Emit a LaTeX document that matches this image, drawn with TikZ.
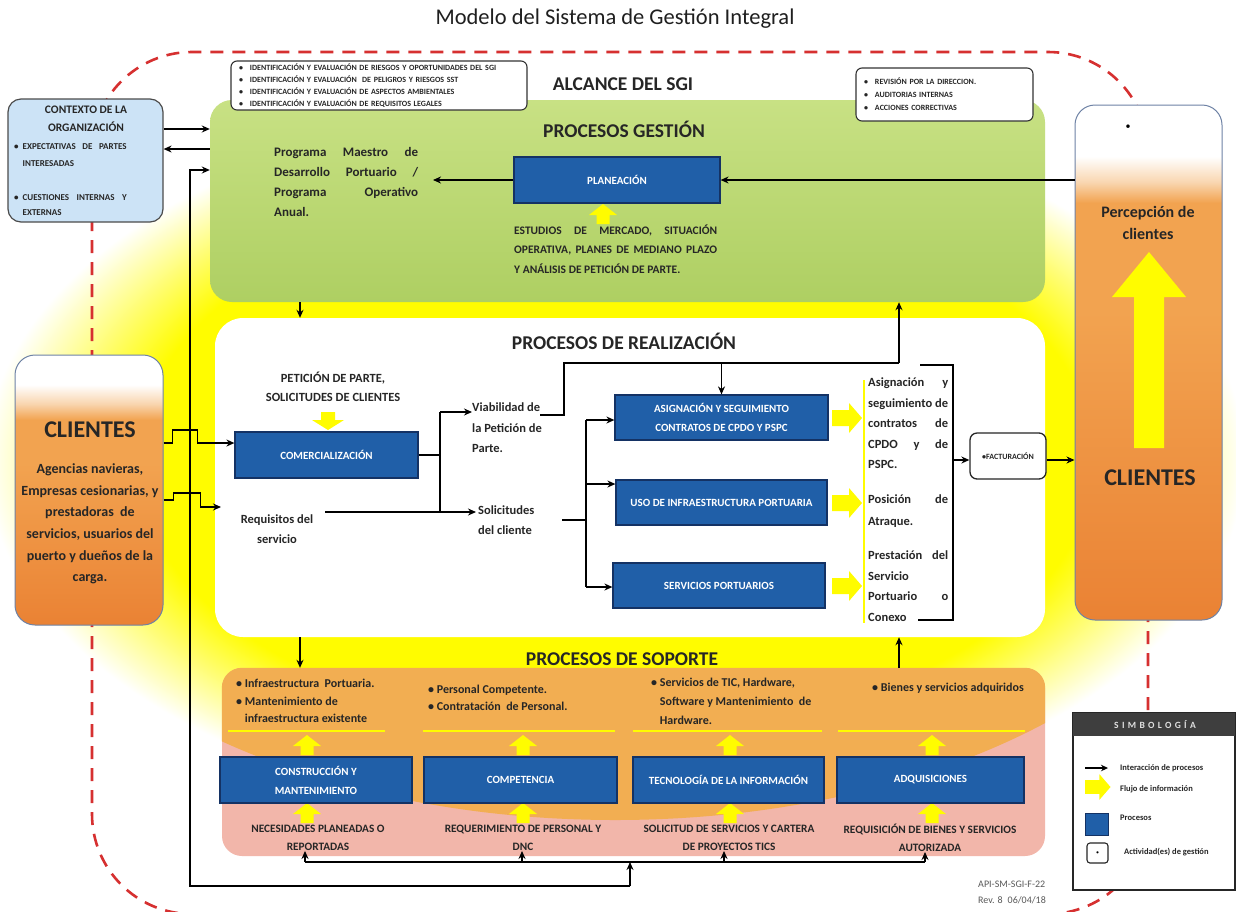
\documentclass[tikz,border=0pt]{standalone}
\usepackage{fontspec}
\setmainfont{Carlito}
\usetikzlibrary{arrows.meta}
\definecolor{blueP}{RGB}{32,95,168}
\definecolor{blueD}{RGB}{20,50,100}
\definecolor{greenA}{RGB}{200,225,132}
\definecolor{greenB}{RGB}{174,207,98}
\definecolor{orA}{RGB}{242,163,80}
\definecolor{orB}{RGB}{234,130,52}
\definecolor{orW}{RGB}{249,214,176}
\definecolor{yel}{RGB}{255,252,0}
\definecolor{pinkS}{RGB}{242,182,170}
\definecolor{orS}{RGB}{242,174,82}
\definecolor{ctxblue}{RGB}{204,227,246}
\definecolor{redD}{RGB}{214,48,48}
\definecolor{hdr}{RGB}{62,62,62}
\definecolor{txt}{RGB}{38,38,38}
\definecolor{edgeB}{RGB}{110,130,165}
% path bounding box maps to 25bp..75bp (vertical) and radius 25bp (radial)
\pgfdeclareradialshading{glow}{\pgfpoint{0bp}{0bp}}{color(0bp)=(yel); color(19bp)=(yel); color(25bp)=(white); color(50bp)=(white)}
\pgfdeclareverticalshading{orcolR}{100bp}{color(0bp)=(orB); color(25bp)=(orB); color(55bp)=(orA); color(65.5bp)=(orA); color(67.5bp)=(orW); color(70bp)=(white); color(100bp)=(white)}
\pgfdeclareverticalshading{orcolL}{100bp}{color(0bp)=(orB); color(25bp)=(orB); color(55bp)=(orA); color(63bp)=(orA); color(66bp)=(orW); color(69.5bp)=(white); color(100bp)=(white)}
\pgfdeclareverticalshading{greensh}{100bp}{color(0bp)=(greenB); color(25bp)=(greenB); color(75bp)=(greenA); color(100bp)=(greenA)}
\newcommand\jline[2]{\makebox[#1][s]{#2}}
\begin{document}
\begin{tikzpicture}[x=1pt,y=-1pt,
  bbox/.style={draw=blueD, line width=1.2pt, fill=blueP, text=white, font=\bfseries\fontsize{11}{19}\selectfont, align=center, inner sep=1pt},
  arr/.style={-{Stealth[length=8pt,width=7pt]}, line width=1.7pt},
  ln/.style={line width=1.7pt},
  bodyt/.style={font=\bfseries\fontsize{12.5}{20.5}\selectfont, text=txt, inner sep=0pt, align=left},
  bodyc/.style={font=\bfseries\fontsize{12.5}{19.5}\selectfont, text=txt, inner sep=0pt, align=center},
  head/.style={font=\bfseries\fontsize{19.5}{24}\selectfont, text=txt, inner sep=0pt},
  capt/.style={font=\bfseries\fontsize{11.3}{18}\selectfont, text=txt, inner sep=0pt, align=center},
  bul/.style={font=\bfseries\fontsize{12}{17.5}\selectfont, text=txt, inner sep=0pt, align=left, anchor=west},
  tinyt/.style={font=\bfseries\fontsize{8}{12}\selectfont, text=txt, align=left},
  legt/.style={font=\bfseries\fontsize{8.5}{10}\selectfont, text=txt, inner sep=0pt, anchor=west},
  yline/.style={draw=yel, line width=2pt},
  yup/.pic={\fill[yel] (-6.5,0) -- (-6.5,-9) -- (-14,-9) -- (0,-20) -- (14,-9) -- (6.5,-9) -- (6.5,0) -- cycle;},
  ydn/.pic={\fill[yel] (-7,0) -- (-7,8) -- (-16,8) -- (0,18) -- (16,8) -- (7,8) -- (7,0) -- cycle;},
  yrt/.pic={\fill[yel] (0,-8) -- (17,-8) -- (17,-15) -- (30,0) -- (17,15) -- (17,8) -- (0,8) -- cycle;}
]
\useasboundingbox (0,0) rectangle (1236,911);
\fill[white] (0,0) rectangle (1236,911);
\shade[shading=glow] (615,460) ellipse [x radius=630pt, y radius=360pt];
\draw[redD, line width=2.6pt, dash pattern=on 13pt off 9pt, rounded corners=100pt] (92,52) rectangle (1148,914);

% title
\node[font=\fontsize{22.5}{26}\selectfont, text=black!88, inner sep=0] (title) at (615,19) {Modelo del Sistema de Gestión Integral};

% ---------- PROCESOS GESTION ----------
\node[shade, shading=greensh, minimum width=835pt, minimum height=202pt, rounded corners=22pt, inner sep=0] (gest) at (627.5,201) {};
\node[tinyt, draw=black!80, line width=1.1pt, fill=white, rounded corners=6pt, text width=280pt, inner xsep=8pt, inner ysep=0pt, minimum height=49pt] (ident) at (379,85.5)
 {\textbullet\hspace{7pt}IDENTIFICACIÓN Y EVALUACIÓN DE RIESGOS Y OPORTUNIDADES DEL SGI\\
  \textbullet\hspace{7pt}IDENTIFICACIÓN Y EVALUACIÓN\ \ DE PELIGROS Y RIESGOS SST\\
  \textbullet\hspace{7pt}IDENTIFICACIÓN Y EVALUACIÓN DE ASPECTOS AMBIENTALES\\
  \textbullet\hspace{7pt}IDENTIFICACIÓN Y EVALUACIÓN DE REQUISITOS LEGALES};
\node[tinyt, font=\bfseries\fontsize{8}{13}\selectfont, draw=black!80, line width=1.1pt, fill=white, rounded corners=6pt, text width=161pt, inner xsep=8pt, inner ysep=0pt, minimum height=53pt] (revd) at (944.5,94.5)
 {\textbullet\hspace{7pt}REVISIÓN POR LA DIRECCION.\\
  \textbullet\hspace{7pt}AUDITORIAS INTERNAS\\
  \textbullet\hspace{7pt}ACCIONES CORRECTIVAS};
\node[head] (alc) at (623,84) {ALCANCE DEL SGI};
\node[head] (hgest) at (624,129) {PROCESOS GESTIÓN};
\node[font=\bfseries\fontsize{13}{20}\selectfont, text=txt, inner sep=0, align=left, anchor=west] (prog) at (274,182)
 {\jline{144pt}{Programa Maestro de}\\ \jline{144pt}{Desarrollo Portuario /}\\ \jline{144pt}{Programa Operativo}\\ Anual.};
\node[bbox, minimum width=206pt, minimum height=46pt] (plan) at (617,180) {PLANEACIÓN};
\pic at (603,224) {yup};
\node[font=\bfseries\fontsize{11.5}{19.5}\selectfont, text=txt, inner sep=0, align=left, anchor=west] (estud) at (514,249)
 {\jline{203pt}{ESTUDIOS DE MERCADO, SITUACIÓN}\\ \jline{203pt}{OPERATIVA, PLANES DE MEDIANO PLAZO}\\ Y ANÁLISIS DE PETICIÓN DE PARTE.};

% ---------- contexto ----------
\node[draw=black!70, line width=1.2pt, fill=ctxblue, rounded corners=13pt, minimum width=155pt, minimum height=123pt, inner sep=0] (ctx) at (85.5,160.5) {};
\node[font=\bfseries\fontsize{11.5}{18}\selectfont, text=txt, align=center, inner sep=0] (ctxT) at (86,119) {CONTEXTO DE LA\\ORGANIZACIÓN};
\node[font=\bfseries\fontsize{9}{17}\selectfont, text=txt, align=left, inner sep=0, anchor=west] (ctxB1) at (14,155.5)
 {\textbullet\hspace{4pt}\jline{104pt}{EXPECTATIVAS DE PARTES}\\ \phantom{\textbullet}\hspace{4pt}INTERESADAS};
\node[font=\bfseries\fontsize{9}{15}\selectfont, text=txt, align=left, inner sep=0, anchor=west] (ctxB2) at (14,205.5)
 {\textbullet\hspace{4pt}\jline{104pt}{CUESTIONES INTERNAS Y}\\ \phantom{\textbullet}\hspace{4pt}EXTERNAS};

% ---------- right column ----------
\node[shade, shading=orcolR, draw=edgeB, line width=1pt, rounded corners=20pt, minimum width=147pt, minimum height=515pt, inner sep=0] (percep) at (1148.5,362.5) {};
\node[font=\fontsize{10}{10}\selectfont, inner sep=0] (pdot) at (1128,127) {\textbullet};
\node[font=\bfseries\fontsize{16}{22}\selectfont, text=txt, align=center, inner sep=0] (perT) at (1148,223) {Percepción de\\clientes};
\fill[yel] (1134,448) -- (1134,297) -- (1112,297) -- (1149,252) -- (1186,297) -- (1164,297) -- (1164,448) -- cycle;
\node[font=\bfseries\fontsize{24}{28}\selectfont, text=txt, inner sep=0] (cliR) at (1150,478) {CLIENTES};

% ---------- left clients ----------
\node[shade, shading=orcolL, draw=edgeB, line width=1pt, rounded corners=20pt, minimum width=148pt, minimum height=270pt, inner sep=0] (cli) at (89,490) {};
\node[font=\bfseries\fontsize{24}{28}\selectfont, text=txt, inner sep=0] (cliT) at (90,430) {CLIENTES};
\node[font=\bfseries\fontsize{14}{21.6}\selectfont, text=txt, align=center, inner sep=0] (cliD) at (90,524)
 {Agencias navieras,\\Empresas cesionarias, y\\prestadoras\ \ de\\servicios, usuarios del\\puerto y dueños de la\\carga.};

% ---------- PROCESOS DE REALIZACION ----------
\node[fill=white, minimum width=830pt, minimum height=319pt, rounded corners=28pt, inner sep=0] (real) at (630,477.5) {};
\node[head] (hreal) at (624,341) {PROCESOS DE REALIZACIÓN};
\node[bodyc] (pet) at (333,387) {PETICIÓN DE PARTE,\\SOLICITUDES DE CLIENTES};
\pic at (328,412) {ydn};
\node[bbox, minimum width=183pt, minimum height=46pt] (com) at (326.5,455) {COMERCIALIZACIÓN};
\node[bodyc] (req) at (277,529) {Requisitos del\\servicio};
\node[bodyt, anchor=west] (viab) at (472,428) {Viabilidad de\\la Petición de\\Parte.};
\node[bodyt, anchor=west] (sol) at (478,520) {Solicitudes\\del cliente};
\node[bbox, minimum width=213pt, minimum height=45pt] (asig) at (721.5,417.5) {ASIGNACIÓN Y SEGUIMIENTO\\CONTRATOS DE CPDO Y PSPC};
\node[bbox, minimum width=211pt, minimum height=45pt] (uso) at (721.5,502.5) {USO DE INFRAESTRUCTURA PORTUARIA};
\node[bbox, minimum width=212pt, minimum height=45pt] (serv) at (719,585.5) {SERVICIOS PORTUARIOS};
\pic at (832,418) {yrt};
\pic at (832,503) {yrt};
\pic at (832,586) {yrt};
\coordinate (ylT) at (864,380);
\coordinate (ylB) at (864,623);
\draw[yline, line width=1.5pt] (ylT) -- (ylB);
\node[bodyt, anchor=west] (c1) at (868,423.5) {\jline{80pt}{Asignación y}\\ \jline{80pt}{seguimiento de}\\ \jline{80pt}{contratos de}\\ \jline{80pt}{CPDO y de}\\ PSPC.};
\node[bodyt, font=\bfseries\fontsize{12.5}{22}\selectfont, anchor=west] (c2) at (868,511) {\jline{80pt}{Posición de}\\ Atraque.};
\node[bodyt, anchor=west] (c3) at (868,586) {\jline{80pt}{Prestación del}\\ Servicio\\ \jline{80pt}{Portuario o}\\ Conexo};
\node[draw=black!85, line width=1.3pt, fill=white, rounded corners=7pt, minimum width=76pt, minimum height=46pt, inner sep=0, font=\bfseries\fontsize{8}{10}\selectfont, text=txt] (fact) at (1008,456) {\textbullet FACTURACIÓN};

% ---------- PROCESOS DE SOPORTE ----------
\node[fill=pinkS, minimum width=823pt, minimum height=188pt, rounded corners=20pt, inner sep=0] (sop) at (633.5,762) {};
\begin{scope}
 \clip[rounded corners=20pt] (sop.north west) rectangle (sop.south east);
 \fill[orS] (615,460) ellipse [x radius=630pt, y radius=360pt];
\end{scope}
\node[head] (hsop) at (622,659) {PROCESOS DE SOPORTE};
\node[bul] (sb1) at (236,701) {\textbullet\ Infraestructura\ \ Portuaria.\\ \textbullet\ Mantenimiento de\\ \phantom{\textbullet}\ infraestructura existente};
\node[bul] (sb2) at (428,698) {\textbullet\ Personal Competente.\\ \textbullet\ Contratación\ \ de Personal.};
\node[bul, font=\bfseries\fontsize{12}{19}\selectfont] (sb3) at (651,701) {\textbullet\ Servicios de TIC, Hardware,\\ \phantom{\textbullet}\ Software y Mantenimiento\ \ de\\ \phantom{\textbullet}\ Hardware.};
\node[bul] (sb4) at (872,688) {\textbullet\ Bienes y servicios adquiridos};
\draw[yline] (228,731) -- (385,731);
\draw[yline] (423,731) -- (615,731);
\draw[yline] (633,731) -- (822,731);
\draw[yline] (838,731) -- (1025,731);
\foreach \xx in {307,523,730,932} {\pic at (\xx,755) {yup}; \pic at (\xx,823) {yup};}
\node[bbox, minimum width=192pt, minimum height=46pt] (cons) at (316,780) {CONSTRUCCIÓN Y\\MANTENIMIENTO};
\node[bbox, minimum width=193pt, minimum height=46pt] (comp) at (520.5,780) {COMPETENCIA};
\node[bbox, minimum width=191pt, minimum height=46pt] (tec) at (728.5,780) {TECNOLOGÍA DE LA INFORMACIÓN};
\node[bbox, minimum width=187pt, minimum height=46pt] (adq) at (930.5,780) {ADQUISICIONES};
\node[capt] (nec) at (318,838) {NECESIDADES PLANEADAS O\\REPORTADAS};
\node[capt] (rqp) at (523,838) {REQUERIMIENTO DE PERSONAL Y\\DNC};
\node[capt] (sls) at (729,838) {SOLICITUD DE SERVICIOS Y CARTERA\\DE PROYECTOS TICS};
\node[capt] (rqb) at (930,838) {REQUISICIÓN DE BIENES Y SERVICIOS\\AUTORIZADA};

% ---------- connectors ----------
\coordinate (c129) at (0,129);
\coordinate (c149) at (0,149);
\coordinate (c443) at (0,443);
\coordinate (c500) at (0,500);
\coordinate (c460) at (0,460);
\coordinate (x300) at (300,0);
\coordinate (x900) at (899,0);
\draw[arr] (ctx.east |- c129) -- (gest.west |- c129);
\draw[arr] (gest.west |- c149) -- (ctx.east |- c149);
\draw[arr] (percep.west |- plan.east) -- (plan.east);
\coordinate (progR) at (433,180);
\draw[arr] (plan.west) -- (progR);
\draw[arr] (gest.south -| x300) -- (real.north -| x300);
\draw[arr] (real.south -| x300) -- (sop.north -| x300);
\draw[arr] (sop.north -| x900) -- (real.south -| x900);
% clients to realizacion (with hops)
\coordinate (reqIn) at (221,507);
\draw[arr] (cli.east |- c443) -- ++(9,0) -- ++(0,-13) -- ++(25,0) -- ++(0,13) -- (com.west |- c443);
\draw[arr] (cli.east |- c500) -- ++(10,0) -- ++(0,-7) -- ++(27,0) -- ++(0,14) -- (reqIn);
% comercializacion split
\coordinate (spT) at (440,412);
\coordinate (spB) at (440,512);
\draw[ln] (com.east) -- (com.east -| spT);
\draw[ln] (spT) -- (spB);
\draw[ln] ([xshift=12pt]req.east |- spB) -- (spB);
\draw[arr] (spT) -- (spT -| viab.west);
\draw[arr] (spB) -- ([xshift=-2pt]spB -| sol.west);
% viabilidad to top bus
\coordinate (vb) at (564,415);
\coordinate (tbus) at (564,363);
\coordinate (upR) at (899,363);
\draw[ln] ([xshift=-2pt]viab.east |- vb) -- (vb) -- (tbus) -- (upR);
\draw[arr] (upR) -- (upR |- gest.south);
\draw[arr] (asig.north |- tbus) -- (asig.north);
% solicitudes distribution
\coordinate (sdA) at (562,520);
\coordinate (sd) at (586,520);
\coordinate (sdT) at (586,420);
\coordinate (sdM) at (586,484);
\coordinate (sdB) at (586,587);
\draw[ln] (sdA) -- (sd);
\draw[ln] (sdT) -- (sdB);
\draw[arr] (sdT) -- (sdT -| asig.west);
\draw[arr] (sdM) -- (sdM -| uso.west);
\draw[arr] (sdB) -- (sdB -| serv.west);
% bracket to facturacion
\coordinate (brT) at (953,365);
\coordinate (brB) at (953,620);
\coordinate (brTL) at (920,365);
\coordinate (brBL) at (918,620);
\draw[ln] (brTL) -- (brT) -- (brB) -- (brBL);
\draw[arr] (brT |- c460) -- (fact.west |- c460);
\draw[arr] (fact.east |- c460) -- (percep.west |- c460);
% bottom feedback
\coordinate (busL) at (305,862);
\coordinate (bus2) at (522,862);
\coordinate (bus3) at (724,862);
\coordinate (busR) at (925,862);
\coordinate (busJ) at (630,862);
\coordinate (botJ) at (630,886);
\coordinate (botL) at (190,886);
\coordinate (feedT) at (190,170);
\draw[ln] (busL) -- (busR);
\draw[arr] (busL) -- (busL |- nec.south);
\draw[arr] (bus2) -- (bus2 |- rqp.south);
\draw[arr] (bus3) -- (bus3 |- sls.south);
\draw[arr] (busR) -- (busR |- rqb.south);
\draw[arr] (botJ) -- (busJ);
\draw[arr] (botJ) -- (botL) -- (feedT) -- (feedT -| gest.west);

% ---------- legend ----------
\node[draw=black!85, line width=1.4pt, fill=white, minimum width=162pt, minimum height=177pt, inner sep=0] (leg) at (1154,801.5) {};
\fill[hdr] ([xshift=0.7pt,yshift=-0.7pt]leg.north west) rectangle ([xshift=-0.7pt,yshift=-24pt]leg.north east);
\node[font=\bfseries\fontsize{9.5}{10}\selectfont\addfontfeature{LetterSpace=35}, text=black!12, inner sep=0] (legh) at (1155,725) {SIMBOLOGÍA};
\node[legt] (l1) at (1120,768) {Interacción de procesos};
\draw[-{Stealth[length=7pt,width=6.5pt]}, line width=1.6pt] ([xshift=-35pt]l1.west) -- ([xshift=-12pt]l1.west);
\pic[scale=0.85] at (1085,787) {yrt};
\node[legt] (l2) at (1120,789) {Flujo de información};
\node[fill=blueP, draw=blueD, line width=1pt, minimum width=23pt, minimum height=22pt, inner sep=0] (lsq) at (1096.5,824) {};
\node[legt] (l3) at (1120,818) {Procesos};
\node[draw=black!85, line width=1.1pt, fill=white, rounded corners=3pt, minimum width=21pt, minimum height=20pt, inner sep=0, font=\fontsize{6}{6}\selectfont] (lact) at (1097.5,853) {\textbullet};
\node[legt] (l4) at (1124,852) {Actividad(es) de gestión};

\node[anchor=west, font=\fontsize{10}{12}\selectfont, text=black!65, inner sep=0] (api) at (978,884) {API-SM-SGI-F-22};
\node[anchor=west, font=\fontsize{10}{12}\selectfont, text=black!65, inner sep=0] (rev) at (978,900) {Rev. 8\enspace 06/04/18};
\end{tikzpicture}
\end{document}
